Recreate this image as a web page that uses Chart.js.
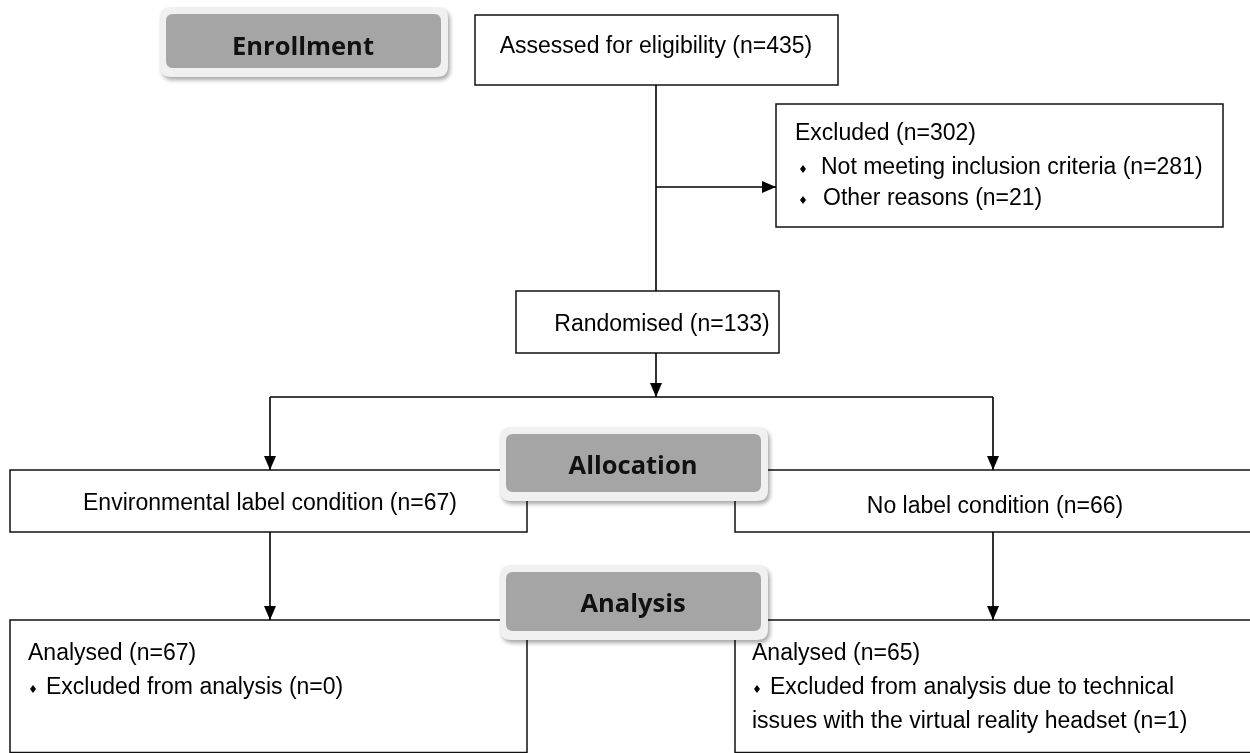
<!DOCTYPE html>
<html>
<head>
<meta charset="utf-8">
<script src="https://cdn.jsdelivr.net/npm/chart.js@4.4.0/dist/chart.umd.min.js"></script>
<style>
  html, body { margin: 0; padding: 0; background: #fff; }
  #wrap { width: 1250px; height: 753px; }
</style>
</head>
<body>
<div id="wrap"><canvas id="flow" width="1250" height="753"></canvas></div>
<script>
// ============================
// FLOW DATA
// ============================
const stageLabels = ['Enrollment', 'Allocation', 'Analysis'];
const assessedCount = 435;
const excludedCount = 302;
const excludedReasons = ['Not meeting inclusion criteria', 'Other reasons'];
const excludedReasonCounts = [281, 21];
const randomisedCount = 133;
const groupLabels = ['Environmental label condition', 'No label condition'];
const groupCounts = [67, 66];
const analysedCounts = [67, 65];
const analysisExcludedLines = [
  ['Excluded from analysis'],
  ['Excluded from analysis due to technical', 'issues with the virtual reality headset']
];
const analysisExcludedCounts = [0, 1];

// ============================
// LAYOUT (in scale units, 0..1250 x 0..753)
// ============================
const layout = {
  assessed: { x1: 475, y1: 15, x2: 838, y2: 85 },
  excluded: { x1: 776, y1: 104, x2: 1223, y2: 227 },
  randomised: { x1: 516, y1: 291, x2: 779, y2: 353 },
  groups: [{ x1: 10, y1: 470, x2: 527, y2: 532 }, { x1: 735, y1: 470, x2: 1256, y2: 532 }],
  analysed: [{ x1: 10, y1: 620, x2: 527, y2: 752.5 }, { x1: 735, y1: 620, x2: 1256, y2: 752.5 }],
  stages: [
    { x1: 160, y1: 7, x2: 448, y2: 77, base: 55 },
    { x1: 500, y1: 427, x2: 768, y2: 501, base: 474 },
    { x1: 500, y1: 565, x2: 768, y2: 640, base: 612 }
  ],
  trunkX: 656, exclY: 187, splitY: 397, branchX: [270, 993]
};

const BODY_FONT = '23px "Liberation Sans", Arial, sans-serif';
const STAGE_FONT = 'bold 25.5px "Open Sans", sans-serif';
const TEXT_DY = 2;

// connectors built from the box geometry
const L = layout;
const connectors = [
  [{ x: L.trunkX, y: L.assessed.y2 }, { x: L.trunkX, y: L.randomised.y1 }],
  [{ x: L.trunkX, y: L.exclY }, { x: L.excluded.x1, y: L.exclY }],
  [{ x: L.trunkX, y: L.randomised.y2 }, { x: L.trunkX, y: L.splitY }],
  [{ x: L.branchX[0], y: L.splitY }, { x: L.branchX[1], y: L.splitY }],
  [{ x: L.branchX[0], y: L.splitY }, { x: L.branchX[0], y: L.groups[0].y1 }],
  [{ x: L.branchX[1], y: L.splitY }, { x: L.branchX[1], y: L.groups[1].y1 }],
  [{ x: L.branchX[0], y: L.groups[0].y2 }, { x: L.branchX[0], y: L.analysed[0].y1 }],
  [{ x: L.branchX[1], y: L.groups[1].y2 }, { x: L.branchX[1], y: L.analysed[1].y1 }]
];
// arrowheads: [x, y, direction]
const arrowHeads = [
  [L.excluded.x1, L.exclY, 'right'],
  [L.trunkX, L.splitY, 'down'],
  [L.branchX[0], L.groups[0].y1, 'down'],
  [L.branchX[1], L.groups[1].y1, 'down'],
  [L.branchX[0], L.analysed[0].y1, 'down'],
  [L.branchX[1], L.analysed[1].y1, 'down']
];

// ============================
// DRAWING HELPERS
// ============================
function rr(ctx, x, y, w, h, r) {
  ctx.beginPath();
  ctx.moveTo(x + r, y);
  ctx.lineTo(x + w - r, y);
  ctx.quadraticCurveTo(x + w, y, x + w, y + r);
  ctx.lineTo(x + w, y + h - r);
  ctx.quadraticCurveTo(x + w, y + h, x + w - r, y + h);
  ctx.lineTo(x + r, y + h);
  ctx.quadraticCurveTo(x, y + h, x, y + h - r);
  ctx.lineTo(x, y + r);
  ctx.quadraticCurveTo(x, y, x + r, y);
  ctx.closePath();
}

function diamond(ctx, x, y) {
  ctx.beginPath();
  ctx.moveTo(x, y - 4);
  ctx.lineTo(x + 3, y);
  ctx.lineTo(x, y + 4);
  ctx.lineTo(x - 3, y);
  ctx.closePath();
  ctx.fill();
}

const flowPlugin = {
  id: 'flow',
  beforeDatasetsDraw(chart) {
    const ctx = chart.ctx;
    const sx = v => chart.scales.x.getPixelForValue(v);
    const sy = v => chart.scales.y.getPixelForValue(v);
    const boxes = [L.assessed, L.excluded, L.randomised, ...L.groups, ...L.analysed];
    ctx.save();
    ctx.lineWidth = 1.5;
    ctx.strokeStyle = '#111';
    ctx.fillStyle = '#fff';
    boxes.forEach(b => {
      const x = sx(b.x1), y = sy(b.y1), w = sx(b.x2) - x, h = sy(b.y2) - y;
      ctx.fillRect(x, y, w, h);
      ctx.strokeRect(x, y, w, h);
    });
    ctx.restore();
  },
  afterDatasetsDraw(chart) {
    const ctx = chart.ctx;
    const sx = v => chart.scales.x.getPixelForValue(v);
    const sy = v => chart.scales.y.getPixelForValue(v + TEXT_DY);
    const syRaw = v => chart.scales.y.getPixelForValue(v);
    ctx.save();

    // arrow heads
    ctx.fillStyle = '#000';
    arrowHeads.forEach(([ax, ay, dir]) => {
      const x = sx(ax), y = syRaw(ay);
      ctx.beginPath();
      if (dir === 'down') {
        ctx.moveTo(x, y); ctx.lineTo(x - 6, y - 14); ctx.lineTo(x + 6, y - 14);
      } else {
        ctx.moveTo(x, y); ctx.lineTo(x - 14, y - 6); ctx.lineTo(x - 14, y + 6);
      }
      ctx.closePath();
      ctx.fill();
    });

    // box texts
    ctx.font = BODY_FONT;
    ctx.fillStyle = '#000';
    ctx.textBaseline = 'middle';

    ctx.textAlign = 'center';
    ctx.fillText(`Assessed for eligibility (n=${assessedCount})`, sx(656), sy(45));
    ctx.fillText(`Randomised (n=${randomisedCount})`, sx(662), sy(323));
    ctx.fillText(`${groupLabels[0]} (n=${groupCounts[0]})`, sx(270), sy(502));
    ctx.fillText(`${groupLabels[1]} (n=${groupCounts[1]})`, sx(995), sy(505));

    ctx.textAlign = 'left';
    ctx.fillText(`Excluded (n=${excludedCount})`, sx(795), sy(132));
    excludedReasons.forEach((r, i) => {
      diamond(ctx, sx(803), sy(167 + i * 31));
      ctx.fillText(`${r} (n=${excludedReasonCounts[i]})`, sx(821 + i * 2), sy(166 + i * 31));
    });

    const leftX = [28, 752];
    analysedCounts.forEach((n, g) => {
      ctx.fillText(`Analysed (n=${n})`, sx(leftX[g]), sy(652));
      const lines = analysisExcludedLines[g];
      lines.forEach((line, k) => {
        const last = k === lines.length - 1;
        const txt = last ? `${line} (n=${analysisExcludedCounts[g]})` : line;
        if (k === 0) {
          diamond(ctx, sx(leftX[g] + 5), sy(687));
          ctx.fillText(txt, sx(leftX[g] + 18), sy(686));
        } else {
          ctx.fillText(txt, sx(leftX[g]), sy(686 + k * 34));
        }
      });
    });

    // stage boxes (grey, on top)
    L.stages.forEach((b, i) => {
      const x = sx(b.x1), y = syRaw(b.y1), w = sx(b.x2) - x, h = syRaw(b.y2) - y;
      ctx.save();
      ctx.shadowColor = 'rgba(0,0,0,0.35)';
      ctx.shadowBlur = 4;
      ctx.shadowOffsetX = 2;
      ctx.shadowOffsetY = 3;
      rr(ctx, x, y, w, h, 11);
      ctx.fillStyle = '#f0f0f0';
      ctx.fill();
      ctx.restore();
      rr(ctx, x + 6, y + 7, w - 13, h - 16, 7);
      ctx.fillStyle = '#a5a5a5';
      ctx.fill();
      ctx.font = STAGE_FONT;
      ctx.fillStyle = '#111';
      ctx.textAlign = 'center';
      ctx.textBaseline = 'alphabetic';
      ctx.fillText(stageLabels[i], x + w / 2 - 1, syRaw(b.base));
    });

    ctx.restore();
  }
};

new Chart(document.getElementById('flow'), {
  type: 'scatter',
  data: {
    datasets: connectors.map(pts => ({
      data: pts,
      showLine: true,
      borderColor: '#000',
      borderWidth: 1.6,
      pointRadius: 0,
      fill: false,
      tension: 0
    }))
  },
  options: {
    responsive: false,
    animation: false,
    devicePixelRatio: 1,
    events: [],
    layout: { padding: 0 },
    plugins: { legend: { display: false }, tooltip: { enabled: false } },
    scales: {
      x: { type: 'linear', min: 0, max: 1250, display: false },
      y: { type: 'linear', min: 0, max: 753, reverse: true, display: false }
    }
  },
  plugins: [flowPlugin]
});
</script>
</body>
</html>
